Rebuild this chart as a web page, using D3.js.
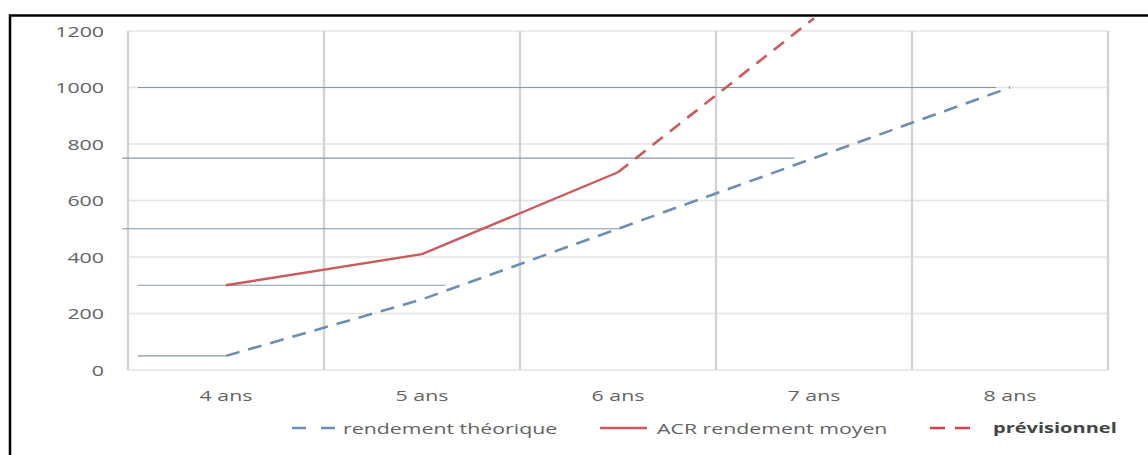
<!DOCTYPE html>
<html><head><meta charset="utf-8">
<script src="https://cdn.jsdelivr.net/npm/d3@7"></script>
<style>
html,body{margin:0;padding:0;background:#fff;}
svg{display:block;}
text{font-family:"Open Sans",sans-serif;}
</style></head>
<body>
<svg id="chart" width="1148" height="455"></svg>
<script>
const categories = ["4 ans","5 ans","6 ans","7 ans","8 ans"];
const theorique = [50, 250, 500, 750, 1000];
const acrMoyen = [300, 410, 700, null, null];
const previsionnel = [null, null, 700, 1245, null];
const yTicks = [0, 200, 400, 600, 800, 1000, 1200];
// reference lines: value, start / end expressed in category-index units
const refValues = [50, 300, 500, 750, 1000];
const refStart = [-0.45, -0.45, -0.53, -0.53, -0.45];
const refEnd = [0, 1.12, 2.01, 2.9, 3.93];
const legendLabels = ["rendement théorique", "ACR rendement moyen", "prévisionnel"];

const svg = d3.select("#chart");
const W = 1148, H = 455;
const plot = {left:128, right:1108, top:31, bottom:370};
const SX = 1.47, FS = 14.5;

// outer frame
svg.append("path").attr("d", `M10,${H+5} L10,15.5 L${W+5},15.5`)
  .attr("fill","none").attr("stroke","#000").attr("stroke-width",2.5);

const x = d3.scalePoint().domain(categories).range([plot.left, plot.right]).padding(0.5);
const step = x.step();
const xi = i => x(categories[0]) + i*step;
const y = d3.scaleLinear().domain([0,1200]).range([plot.bottom, plot.top]);

// horizontal gridlines
svg.append("g").selectAll("line").data(yTicks).join("line")
  .attr("x1", plot.left).attr("x2", plot.right)
  .attr("y1", d=>y(d)).attr("y2", d=>y(d))
  .attr("stroke", "#e4e4e4").attr("stroke-width", 1.5);

// vertical gridlines between categories
const vb = d3.range(categories.length+1).map(i => plot.left + i*step);
svg.append("g").selectAll("line").data(vb).join("line")
  .attr("x1", d=>d).attr("x2", d=>d)
  .attr("y1", plot.top).attr("y2", plot.bottom)
  .attr("stroke", "#d3d3d3").attr("stroke-width", 2.4);

// reference lines
svg.append("g").selectAll("line").data(refValues).join("line")
  .attr("x1", (d,i)=>xi(refStart[i])).attr("x2", (d,i)=>xi(refEnd[i]))
  .attr("y1", d=>y(d)).attr("y2", d=>y(d))
  .attr("stroke", "#8596a8").attr("stroke-width", 1.2);

// y axis labels
const yAxis = d3.axisLeft(y).tickValues(yTicks).tickSize(0).tickPadding(0).tickFormat(d3.format("d"));
const gy = svg.append("g").attr("transform", `translate(104,0)`).call(yAxis);
gy.select(".domain").remove();
gy.selectAll(".tick").attr("transform", null);
gy.selectAll("text").attr("x", 0).attr("dy", null).attr("y", 0)
  .attr("text-anchor", "end")
  .attr("dominant-baseline", "central")
  .attr("transform", d => `translate(0,${y(d)}) scale(${SX},1)`)
  .attr("font-size", FS).attr("fill", "#636363")
  .attr("font-family", '"Open Sans",sans-serif');

// x axis labels
const xAxis = d3.axisBottom(x).tickSize(0).tickPadding(0);
const gx = svg.append("g").call(xAxis);
gx.select(".domain").remove();
gx.selectAll(".tick").attr("transform", null);
gx.selectAll("text").attr("y", 0).attr("dy", null).attr("x", 0)
  .attr("dominant-baseline", "central")
  .attr("transform", d => `translate(${x(d)},395) scale(${SX},1)`)
  .attr("font-size", FS).attr("fill", "#636363")
  .attr("font-family", '"Open Sans",sans-serif');

// series
const line = d3.line().defined(d=>d.v!=null).x(d=>x(d.c)).y(d=>y(d.v));
const toPts = arr => arr.map((v,i)=>({c:categories[i], v}));

svg.append("path").datum(toPts(theorique)).attr("d", line)
  .attr("fill","none").attr("stroke","#6e8db3").attr("stroke-width",2.6)
  .attr("stroke-dasharray","14,9");
svg.append("path").datum(toPts(previsionnel)).attr("d", line)
  .attr("fill","none").attr("stroke","#c95a5d").attr("stroke-width",2.6)
  .attr("stroke-dasharray","13,9");
svg.append("path").datum(toPts(acrMoyen)).attr("d", line)
  .attr("fill","none").attr("stroke","#c95a5d").attr("stroke-width",2.4);

// legend
const legY = 428;
const legend = [
  {label: legendLabels[0], x0:292, x1:336, tx:343, color:"#6e8db3", dash:"14,15", bold:false, tc:"#636363", fs:FS, sx:SX},
  {label: legendLabels[1], x0:600, x1:647, tx:657, color:"#c95a5d", dash:null, bold:false, tc:"#636363", fs:FS, sx:SX},
  {label: legendLabels[2], x0:930, x1:975, tx:993, color:"#d0434f", dash:"15,10", bold:true, tc:"#444", fs:14, sx:1.43}
];
const lg = svg.append("g");
legend.forEach(l => {
  lg.append("line").attr("x1", l.x0).attr("x2", l.x1).attr("y1", legY).attr("y2", legY)
    .attr("stroke", l.color).attr("stroke-width", 2.6)
    .attr("stroke-dasharray", l.dash);
  lg.append("text").text(l.label)
    .attr("transform", `translate(${l.tx},${legY}) scale(${l.sx},1)`)
    .attr("dominant-baseline","central")
    .attr("font-size", l.fs).attr("fill", l.tc)
    .attr("font-weight", l.bold ? 700 : 400);
});
</script>
</body></html>
